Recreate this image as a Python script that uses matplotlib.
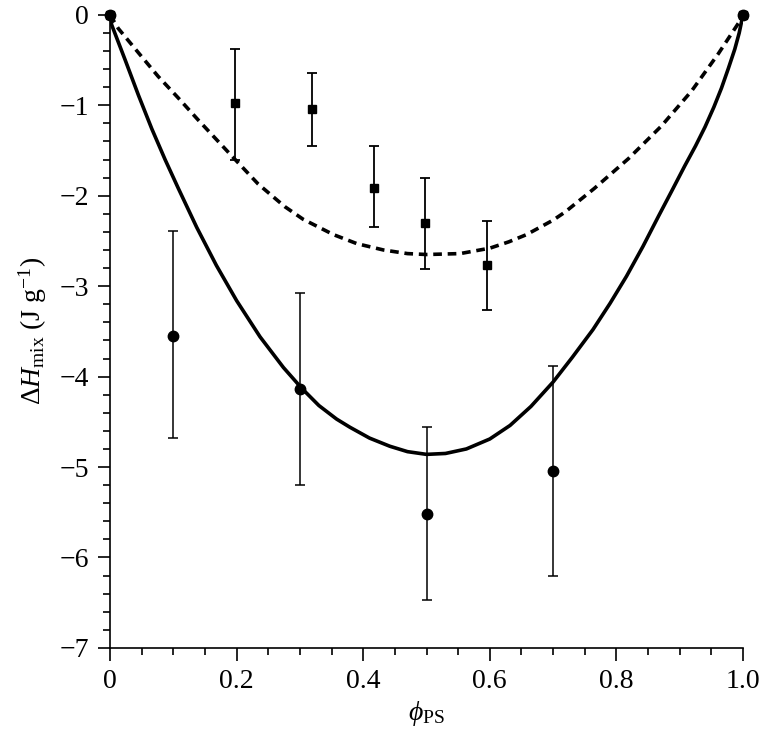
import matplotlib
matplotlib.use("Agg")
import matplotlib.pyplot as plt
from matplotlib.ticker import MultipleLocator

# circles (solid curve set)
phi_c = [0.0, 0.1, 0.3, 0.5, 0.7, 1.0]
dh_c = [0.0, -3.55, -4.14, -5.52, -5.04, 0.0]
err_lo_c = [0.0, 1.13, 1.06, 0.95, 1.16, 0.0]
err_hi_c = [0.0, 1.16, 1.06, 0.96, 1.16, 0.0]

# squares (dashed curve set)
phi_s = [0.0, 0.197, 0.319, 0.417, 0.497, 0.595, 1.0]
dh_s = [0.0, -0.98, -1.04, -1.92, -2.30, -2.77, 0.0]
err_lo_s = [0.0, 0.62, 0.41, 0.43, 0.51, 0.49, 0.0]
err_hi_s = [0.0, 0.60, 0.40, 0.47, 0.50, 0.49, 0.0]

# fitted curves
fit_x_solid = [0.0, 0.0026, 0.024, 0.045, 0.066, 0.087, 0.108, 0.137, 0.168, 0.200,
               0.237, 0.274, 0.303, 0.33, 0.358, 0.379, 0.41, 0.442, 0.47, 0.500, 0.53,
               0.563, 0.60, 0.632, 0.665, 0.70, 0.73, 0.763, 0.79, 0.816, 0.842, 0.867,
               0.888, 0.908, 0.925, 0.940, 0.954, 0.966, 0.977, 0.987, 0.994, 1.0]
fit_y_solid = [0.0, -0.11, -0.50, -0.89, -1.26, -1.60, -1.92, -2.35, -2.77, -3.16,
               -3.56, -3.90, -4.13, -4.32, -4.47, -4.56, -4.68, -4.77, -4.83, -4.86, -4.85,
               -4.80, -4.69, -4.54, -4.33, -4.06, -3.79, -3.48, -3.19, -2.89, -2.56, -2.22,
               -1.94, -1.67, -1.45, -1.24, -1.02, -0.81, -0.59, -0.38, -0.20, 0.0]
fit_x_dash = [0.0, 0.013, 0.045, 0.076, 0.108, 0.139, 0.171, 0.195, 0.234, 0.276,
              0.305, 0.353, 0.39, 0.432, 0.47, 0.50, 0.553, 0.60, 0.63, 0.658, 0.70,
              0.719, 0.765, 0.819, 0.871, 0.919, 0.961, 0.993, 1.0]
fit_y_dash = [0.0, -0.15, -0.42, -0.68, -0.92, -1.16, -1.40, -1.58, -1.87, -2.12,
              -2.26, -2.43, -2.53, -2.60, -2.64, -2.65, -2.64, -2.58, -2.51, -2.43, -2.27,
              -2.18, -1.92, -1.59, -1.23, -0.84, -0.43, -0.09, 0.0]

plt.rcParams['font.family'] = ['Liberation Serif', 'DejaVu Serif']
plt.rcParams['mathtext.fontset'] = 'custom'
plt.rcParams['mathtext.rm'] = 'Liberation Serif'
plt.rcParams['mathtext.it'] = 'Liberation Serif:italic'
plt.rcParams['mathtext.bf'] = 'Liberation Serif:bold'

fig = plt.figure(figsize=(7.64, 7.43), dpi=100)
ax = fig.add_axes([0.144, 0.128, 0.8285, 0.852])

ax.plot(fit_x_solid, fit_y_solid, color='black', lw=2.6, solid_joinstyle='round')
ax.plot(fit_x_dash, fit_y_dash, color='black', lw=2.6, dashes=(2.4, 1.6))

ax.errorbar(phi_c, dh_c, yerr=[err_lo_c, err_hi_c], fmt='o', color='black',
            ms=7.5, elinewidth=1.1, capsize=3.5, capthick=1.1, clip_on=False, zorder=4)
ax.errorbar(phi_s, dh_s, yerr=[err_lo_s, err_hi_s], fmt='s', color='black',
            ms=6, elinewidth=1.3, capsize=3.5, capthick=1.3, clip_on=False, zorder=4)

ax.set_xlim(0, 1.0)
ax.set_ylim(-7, 0)
ax.set_xticks([0, 0.2, 0.4, 0.6, 0.8, 1.0])
ax.set_xticklabels(['0', '0.2', '0.4', '0.6', '0.8', '1.0'])
ax.set_yticks(range(-7, 1))
ax.set_yticklabels(['\u22127', '\u22126', '\u22125', '\u22124', '\u22123', '\u22122', '\u22121', '0'])
ax.xaxis.set_minor_locator(MultipleLocator(0.05))
ax.yaxis.set_minor_locator(MultipleLocator(0.2))

for s in ['top', 'right']:
    ax.spines[s].set_visible(False)
for s in ['left', 'bottom']:
    ax.spines[s].set_linewidth(1.2)
ax.tick_params(which='major', direction='out', length=9, width=1.2, labelsize=20, pad=6)
ax.tick_params(which='minor', direction='out', length=5, width=1.2)

ax.set_xlabel(r'$\phi_{\mathrm{PS}}$', fontsize=20, labelpad=4)
ax.set_ylabel(r'$\Delta H_{\mathrm{mix}}$ (J g$^{-1}$)', fontsize=20, labelpad=8)

fig.savefig('out.png', dpi=100)
